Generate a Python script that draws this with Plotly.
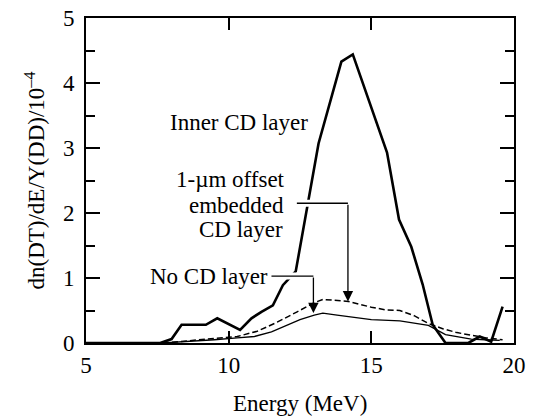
import plotly.graph_objects as go

# ---- data ----
inner_e = [5.0, 7.6, 8.0, 8.35, 9.2, 9.6, 10.4, 10.8, 11.15, 11.55, 11.9, 12.35,
           13.15, 13.95, 14.35, 15.1, 15.55, 15.97, 16.4, 16.8, 17.15, 17.6,
           18.4, 18.8, 19.2, 19.6]
inner_y = [0.0, 0.0, 0.06, 0.28, 0.28, 0.38, 0.2, 0.38, 0.48, 0.58, 0.89, 1.1,
           3.07, 4.33, 4.44, 3.5, 2.93, 1.9, 1.48, 0.9, 0.28, 0.0,
           0.0, 0.1, 0.02, 0.56]

offset_e = [7.7, 8.5, 9.5, 10.3, 11.0, 11.7, 12.4, 13.0, 13.3, 14.2, 15.0, 15.5,
            16.0, 16.5, 17.0, 17.5, 18.0, 18.5, 19.0, 19.6]
offset_y = [0.0, 0.03, 0.06, 0.1, 0.18, 0.32, 0.48, 0.62, 0.67, 0.64, 0.55, 0.51,
            0.5, 0.42, 0.3, 0.22, 0.16, 0.12, 0.08, 0.05]

nocd_e = [7.7, 8.5, 9.5, 10.3, 10.9, 11.5, 12.0, 12.5, 13.0, 13.3, 13.8, 14.4,
          15.0, 16.0, 16.5, 17.0, 17.6, 18.5, 19.0, 19.5]
nocd_y = [0.0, 0.02, 0.05, 0.08, 0.1, 0.17, 0.27, 0.36, 0.43, 0.46, 0.43, 0.4,
          0.36, 0.34, 0.31, 0.27, 0.13, 0.06, 0.05, 0.04]

x_ticks = [5, 10, 15, 20]
y_ticks = [0, 1, 2, 3, 4, 5]

FONT = "Liberation Serif"
FS = 23

fig = go.Figure()
fig.add_trace(go.Scatter(x=inner_e, y=inner_y, mode="lines",
                         line=dict(color="black", width=2.6), showlegend=False))
fig.add_trace(go.Scatter(x=offset_e, y=offset_y, mode="lines",
                         line=dict(color="black", width=1.5, dash="6px,3px"), showlegend=False))
fig.add_trace(go.Scatter(x=nocd_e, y=nocd_y, mode="lines",
                         line=dict(color="black", width=1.3), showlegend=False))

# leader lines (white halo underneath to break the thick curve)
for (x0, x1, yy) in [(12.39, 14.18, 2.15), (11.5, 12.97, 1.03)]:
    fig.add_shape(type="line", x0=x0 + 0.25, x1=x1 - 0.1, y0=yy, y1=yy, xref="x", yref="y",
                  line=dict(color="white", width=7), layer="above")
    fig.add_shape(type="line", x0=x0, x1=x1, y0=yy, y1=yy, xref="x", yref="y",
                  line=dict(color="black", width=1.3), layer="above")

# arrows
for (xa, y0, y1) in [(14.18, 2.15, 0.64), (12.97, 1.03, 0.46)]:
    fig.add_annotation(x=xa, y=y1, ax=xa, ay=y0, xref="x", yref="y", axref="x", ayref="y",
                       showarrow=True, arrowhead=2, arrowsize=1.6, arrowwidth=1.3,
                       arrowcolor="black", standoff=0, text="")

labels = [
    ("Inner CD layer", 7.89, 3.40, "left"),
    ("1-\u00b5m offset", 12.05, 2.52, "right"),
    ("embedded", 12.02, 2.12, "right"),
    ("CD layer", 11.98, 1.74, "right"),
    ("No CD layer", 11.46, 1.03, "right"),
]
for t, xx, yy, anc in labels:
    fig.add_annotation(x=xx, y=yy, xref="x", yref="y", text=t, showarrow=False,
                       xanchor=anc, yanchor="middle",
                       font=dict(family=FONT, size=FS, color="black"))

# axis titles
fig.add_annotation(x=0.5, y=0, xref="paper", yref="paper", text="Energy (MeV)",
                   showarrow=False, xanchor="center", yanchor="middle", yshift=-60,
                   font=dict(family=FONT, size=FS, color="black"))
fig.add_annotation(x=0, y=0.5, xref="paper", yref="paper",
                   text="dn(DT)/dE/Y(DD)/10<sup>\u20134</sup>", textangle=-90,
                   showarrow=False, xanchor="center", yanchor="middle", xshift=-51,
                   font=dict(family=FONT, size=FS, color="black"))

fig.update_xaxes(range=[5, 20], tickvals=x_ticks, ticks="inside", ticklen=12, tickwidth=1.5,
                 tickcolor="black", showline=True, linecolor="black", linewidth=2,
                 mirror="ticks", showgrid=False, zeroline=False, automargin=False,
                 tickfont=dict(family=FONT, size=FS, color="black"))
fig.update_yaxes(range=[0, 5], tickvals=y_ticks, ticks="inside", ticklen=14, tickwidth=1.5,
                 tickcolor="black", showline=True, linecolor="black", linewidth=2,
                 mirror="ticks", showgrid=False, zeroline=False, automargin=False,
                 ticklabelstandoff=5,
                 minor=dict(dtick=0.5, ticks="inside", ticklen=9, tickwidth=1.5, tickcolor="black"),
                 tickfont=dict(family=FONT, size=FS, color="black"))

fig.update_layout(width=533, height=418, margin=dict(l=86, r=19, t=18, b=75),
                  plot_bgcolor="white", paper_bgcolor="white")

fig.write_html("out.html")
